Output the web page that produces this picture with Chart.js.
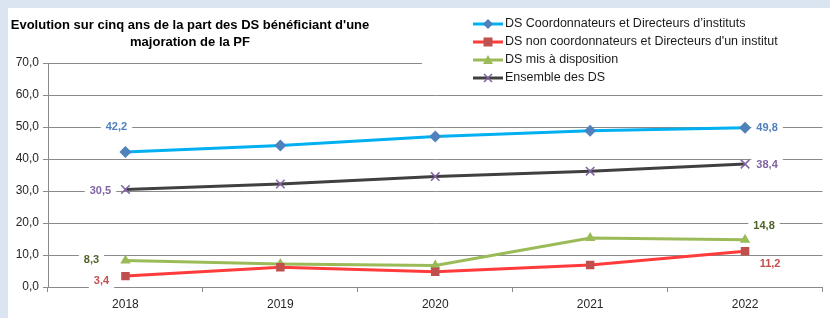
<!DOCTYPE html>
<html>
<head>
<meta charset="utf-8">
<script src="https://cdn.jsdelivr.net/npm/chart.js@4.4.0/dist/chart.umd.min.js"></script>
<style>
  body { margin: 0; background: #dbe5f1; }
  #wrap { position: absolute; left: 8px; top: 8px; width: 822px; height: 310px; background: #fff; }
</style>
</head>
<body>
<div id="wrap"><canvas id="chart" width="822" height="310"></canvas></div>
<script>
const years = ['2018', '2019', '2020', '2021', '2022'];
const coordDirInstituts = [42.2, 44.2, 47.0, 48.8, 49.8];
const nonCoordDirInstitut = [3.4, 6.2, 4.8, 6.9, 11.2];
const misADisposition = [8.3, 7.2, 6.7, 15.3, 14.8];
const ensembleDS = [30.5, 32.2, 34.5, 36.2, 38.4];
const titleLines = ["Evolution sur cinq ans de la part des DS bénéficiant d'une", "majoration de la PF"];

const fmt = v => v.toFixed(1).replace('.', ',');

// draws a legend marker by hand
function drawMarker(ctx, style, x, y, fill, stroke) {
    ctx.save();
    ctx.fillStyle = fill;
    ctx.strokeStyle = stroke;
    ctx.beginPath();
    if (style === 'rectRot') {
        ctx.moveTo(x, y - 5); ctx.lineTo(x + 5, y); ctx.lineTo(x, y + 5); ctx.lineTo(x - 5, y);
        ctx.closePath(); ctx.fill();
    } else if (style === 'rect') {
        ctx.fillRect(x - 4.5, y - 4.5, 9, 9);
    } else if (style === 'triangle') {
        ctx.moveTo(x, y - 5); ctx.lineTo(x + 5, y + 4); ctx.lineTo(x - 5, y + 4);
        ctx.closePath(); ctx.fill();
    } else {
        ctx.lineWidth = 1.5;
        ctx.moveTo(x - 4, y - 4); ctx.lineTo(x + 4, y + 4);
        ctx.moveTo(x + 4, y - 4); ctx.lineTo(x - 4, y + 4);
        ctx.stroke();
    }
    ctx.restore();
}

const titlePlugin = {
    id: 'titlePlugin',
    afterDraw(chart) {
        const ctx = chart.ctx;
        ctx.save();
        ctx.font = 'bold 13px "Liberation Sans"';
        ctx.fillStyle = '#000';
        ctx.textAlign = 'center';
        ctx.textBaseline = 'middle';
        ctx.fillText(titleLines[0], 182, 17);
        ctx.fillText(titleLines[1], 182, 34);
        ctx.restore();
    }
};

const legendPlugin = {
    id: 'legendPlugin',
    afterDraw(chart) {
        const ctx = chart.ctx;
        ctx.save();
        ctx.fillStyle = '#fff';
        ctx.fillRect(414, 0, 402, 82);
        ctx.font = '12.5px "Liberation Sans"';
        ctx.textBaseline = 'middle';
        chart.data.datasets.forEach((ds, i) => {
            const y = 16 + i * 18;
            ctx.strokeStyle = ds.borderColor;
            ctx.lineWidth = 3;
            ctx.beginPath();
            ctx.moveTo(465, y); ctx.lineTo(495, y);
            ctx.stroke();
            drawMarker(ctx, ds.pointStyle, 480, y, ds.pointBackgroundColor, ds.pointBorderColor);
            ctx.fillStyle = '#1a1a1a';
            ctx.fillText(ds.label, 497, y);
        });
        ctx.restore();
    }
};

// first and last value labels, on a white box that breaks the gridlines
const endLabels = {
    id: 'endLabels',
    beforeDatasetsDraw(chart) {
        const ctx = chart.ctx;
        ctx.save();
        ctx.font = 'bold 11px "Liberation Sans"';
        ctx.textAlign = 'center';
        ctx.textBaseline = 'middle';
        chart.data.datasets.forEach((ds, i) => {
            const meta = chart.getDatasetMeta(i);
            [0, ds.data.length - 1].forEach((idx, k) => {
                const pt = meta.data[idx];
                const off = ds.labelOffsets[k];
                const txt = fmt(ds.data[idx]);
                const x = pt.x + off[0], y = pt.y + off[1];
                const w = ctx.measureText(txt).width + 10;
                ctx.fillStyle = '#fff';
                ctx.fillRect(x - w / 2, y - 7, w, 14);
                ctx.fillStyle = ds.labelColor;
                ctx.fillText(txt, x, y);
            });
        });
        ctx.restore();
    }
};

const gridColor = '#8a8a8a';

new Chart(document.getElementById('chart').getContext('2d'), {
    type: 'line',
    data: {
        labels: years,
        datasets: [
            {
                label: 'DS Coordonnateurs et Directeurs d’instituts',
                data: coordDirInstituts,
                borderColor: '#00b0f0', borderWidth: 3,
                pointStyle: 'rectRot', pointRadius: 6,
                pointBackgroundColor: '#4f81bd', pointBorderColor: '#4f81bd', pointBorderWidth: 0,
                labelColor: '#4f81bd', labelOffsets: [[-9, -25], [22, 0]]
            },
            {
                label: "DS non coordonnateurs et Directeurs d'un institut",
                data: nonCoordDirInstitut,
                borderColor: '#ff3b3b', borderWidth: 3,
                pointStyle: 'rect', pointRadius: 6,
                pointBackgroundColor: '#c0504d', pointBorderColor: '#c0504d', pointBorderWidth: 0,
                labelColor: '#c0504d', labelOffsets: [[-24, 5], [25, 13]]
            },
            {
                label: 'DS mis à disposition',
                data: misADisposition,
                borderColor: '#9bbb59', borderWidth: 3,
                pointStyle: 'triangle', pointRadius: 6,
                pointBackgroundColor: '#9bbb59', pointBorderColor: '#9bbb59', pointBorderWidth: 0,
                labelColor: '#4f6228', labelOffsets: [[-34, 0], [19, -14]]
            },
            {
                label: 'Ensemble des DS',
                data: ensembleDS,
                borderColor: '#404040', borderWidth: 3,
                pointStyle: 'crossRot', pointRadius: 6,
                pointBackgroundColor: '#8064a2', pointBorderColor: '#8064a2', pointBorderWidth: 1.5,
                labelColor: '#8064a2', labelOffsets: [[-25, 2], [22, 1]]
            }
        ]
    },
    options: {
        responsive: false,
        animation: false,
        layout: { padding: { top: 55, right: 2, left: 0, bottom: 0 } },
        plugins: {
            legend: { display: false },
            title: { display: false },
            tooltip: { enabled: false }
        },
        scales: {
            x: {
                offset: true,
                grid: { offset: true, drawOnChartArea: false, tickLength: 5, color: gridColor },
                border: { color: gridColor },
                ticks: { color: '#262626', font: { family: 'Liberation Sans', size: 12 }, padding: 5 },
                afterFit: scale => { scale.height = 31; }
            },
            y: {
                min: 0, max: 70,
                grid: { tickLength: 5, color: gridColor },
                border: { color: gridColor },
                ticks: {
                    stepSize: 10,
                    color: '#262626',
                    font: { family: 'Liberation Sans', size: 12 },
                    padding: 4,
                    callback: v => fmt(v)
                },
                afterFit: scale => { scale.width = 40; }
            }
        }
    },
    plugins: [endLabels, legendPlugin, titlePlugin]
});
</script>
</body>
</html>
